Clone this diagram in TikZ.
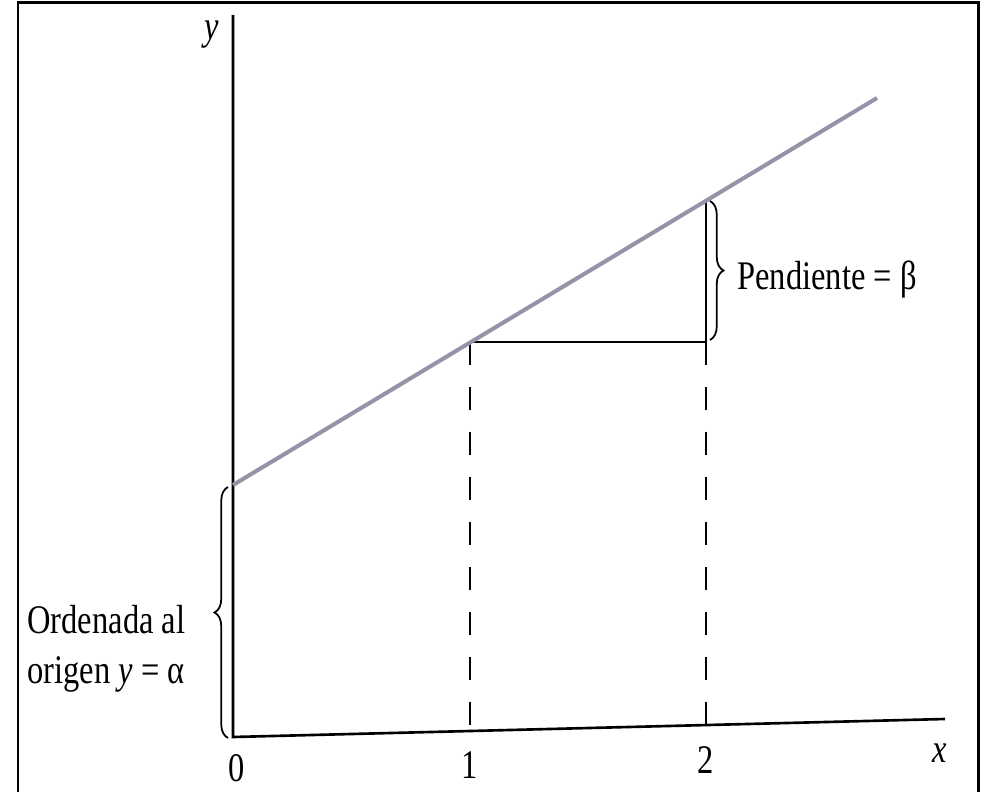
\documentclass[tikz,border=0pt]{standalone}
\usepackage{fontspec}
\setmainfont{Liberation Serif}
\usepackage{graphicx}
\usetikzlibrary{calc, decorations.pathreplacing}
\definecolor{slopegray}{RGB}{150,147,168}
\newcommand{\tallbox}[1]{\scalebox{1}[1.25]{#1}}
\tikzset{
  frame/.style={draw, line width=1.7pt},
  axis/.style={line width=1.5pt},
  slope/.style={draw=slopegray, line width=2.3pt},
  guide/.style={line width=1.2pt, dash pattern=on 0.46cm off 0.44cm},
  brc/.style={decorate, decoration={brace, amplitude=0.27cm}, line width=1pt},
  lbl/.style={font=\fontsize{18.5}{22}\selectfont, inner sep=0pt},
}

\begin{document}
\begin{tikzpicture}[x=0.02cm, y=0.02cm]
    \useasboundingbox (0,0) rectangle (982,791);
    \draw[frame] (18,-5) -- (18,788) -- (978,788) -- (978,-5);
    % axes
    \coordinate (O) at (233,54);
    \coordinate (Ytop) at (233,776);
    \coordinate (Xend) at (945,72);
    \draw[axis] (Ytop) -- (O) -- (Xend);
    % line y = alpha + beta x
    \coordinate (A) at (233,306);
    \coordinate (P1) at (470,449);
    \coordinate (P2) at (706,590);
    \coordinate (Q) at (706,449);
    \coordinate (E) at (877,693);
    \coordinate (F1) at (470,60);
    \coordinate (F2) at (706,66);
    \draw[line width=1.5pt] (P1) -- (Q) -- (P2);
    \draw[guide] (P1) -- (F1);
    \draw[guide] (Q) -- (F2);
    \draw[slope] (A) -- (E);
    % braces
    \draw[brc] (710,590) -- (710,451);
    \draw[brc] (228,53) -- (228,304);
    % labels
    \node[lbl, anchor=base west] (slopelbl) at (737,501) {\tallbox{Pendiente = β}};
    \node[lbl, anchor=base west] (ordA) at (27,158) {\tallbox{Ordenada al}};
    \node[lbl, anchor=base west] (ordB) at (27,108) {\tallbox{origen \textit{y} = α}};
    \node[lbl, anchor=base] (t0) at (237,10) {\tallbox{0}};
    \node[lbl, anchor=base] (t1) at (470,13) {\tallbox{1}};
    \node[lbl, anchor=base] (t2) at (706,18) {\tallbox{2}};
    \node[lbl, anchor=base] (xlbl) at (940,29) {\tallbox{\textit{x}}};
    \node[lbl, anchor=base] (ylbl) at (212,751) {\tallbox{\textit{y}}};
\end{tikzpicture}
\end{document}
